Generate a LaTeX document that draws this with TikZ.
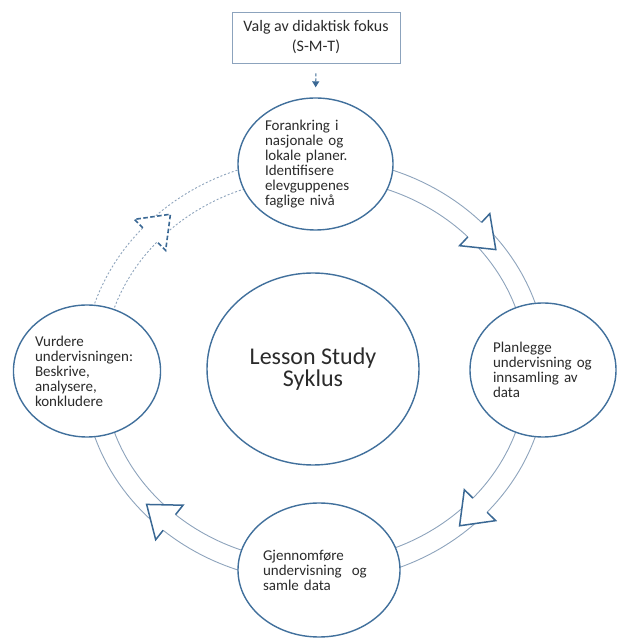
\documentclass[tikz,border=0pt]{standalone}
\usepackage{fontspec}
\setmainfont{Carlito}
\usetikzlibrary{shapes.geometric,arrows.meta,calc,backgrounds}
\definecolor{circblue}{HTML}{41709C}
\definecolor{arcblue}{HTML}{8DA3BC}
\definecolor{triblue}{HTML}{3A6894}
\definecolor{boxline}{HTML}{8CA3BD}
\definecolor{txt}{HTML}{2B2B2B}
\begin{document}
\begin{tikzpicture}[x=1pt,y=1pt,
  circ/.style={ellipse, draw=circblue, line width=1.4pt, fill=white, inner sep=0pt,
    text=txt, font=\fontsize{15}{15}\selectfont, align=left},
  fokusbox/.style={rectangle, draw=boxline, line width=0.8pt, fill=white,
    minimum width=168pt, minimum height=51pt, inner sep=0pt, align=center,
    text=txt, font=\fontsize{16}{20}\selectfont},
  arcline/.style={draw=arcblue, line width=0.9pt},
  dotarc/.style={draw=arcblue, line width=0.9pt, dash pattern=on 2pt off 2pt},
  tri/.style={draw=triblue, line width=1.5pt, line join=miter},
  dashtri/.style={draw=triblue, line width=1.6pt, dash pattern=on 4.5pt off 2.5pt},
  toparrow/.style={draw=triblue, line width=1pt, dash pattern=on 3pt off 2pt,
    -{Triangle[length=6pt,width=7pt]}, shorten <=10pt, shorten >=10pt}
]
\useasboundingbox (0,0) rectangle (616,640);
\coordinate (C) at (315,270);

% nodes
\node[fokusbox] (fokus) at (316,602.5) {Valg av didaktisk fokus\\(S-M-T)};
\node[circ, minimum width=155pt, minimum height=132pt, text width=101pt] (T) at (315.5,476)
  {Forankring i\\nasjonale og\\lokale planer.\\Identifisere\\elevguppenes\\faglige nivå};
\node[circ, minimum width=212pt, minimum height=192pt, align=center,
  font=\fontsize{24}{22}\selectfont] (L) at (313,271) {Lesson Study\\Syklus};
\node[circ, minimum width=146pt, minimum height=134pt, text width=100pt] (P) at (543,270)
  {Planlegge\\undervisning~og\\innsamling av\\data};
\node[circ, minimum width=146pt, minimum height=132pt, text width=104pt] (V) at (87,269)
  {Vurdere\\undervisningen:\\Beskrive,\\analysere,\\konkludere};
\node[circ, minimum width=162pt, minimum height=134pt, text width=112pt] (G) at (319,70)
  {Gjennomføre\\undervisning~~og\\samle data};

% cycle arcs
\begin{scope}[on background layer]
  \draw[arcline] ($(C)+(90:232pt and 212pt)$) arc[start angle=90, end angle=-180, x radius=232pt, y radius=212pt];
  \draw[arcline] ($(C)+(90:212pt and 192pt)$) arc[start angle=90, end angle=-180, x radius=212pt, y radius=192pt];
  \draw[dotarc] ($(C)+(180:232pt and 212pt)$) arc[start angle=180, end angle=90, x radius=232pt, y radius=212pt];
  \draw[dotarc] ($(C)+(180:212pt and 192pt)$) arc[start angle=180, end angle=90, x radius=212pt, y radius=192pt];
\end{scope}

% arrow heads on the cycle
\foreach \t/\r in {44/-43.3, -42/-134.7, -131/141.6} {
  \begin{scope}[shift={($(C)+(\t:222pt and 202pt)$)}, rotate=\r]
    \fill[white] (0,22) -- (29,0) -- (0,-22) -- cycle;
    \draw[tri] (0,10) -- (0,22) -- (29,0) -- (0,-22) -- (0,-10);
  \end{scope}
}
\begin{scope}[shift={($(C)+(138:222pt and 202pt)$)}, rotate=45.3]
  \fill[white] (0,22) -- (29,0) -- (0,-22) -- cycle;
  \draw[dashtri] (0,10) -- (0,22) -- (29,0) -- (0,-22) -- (0,-10);
\end{scope}

% top arrow
\draw[toparrow] (fokus.south) -- (T.north);
\end{tikzpicture}
\end{document}
